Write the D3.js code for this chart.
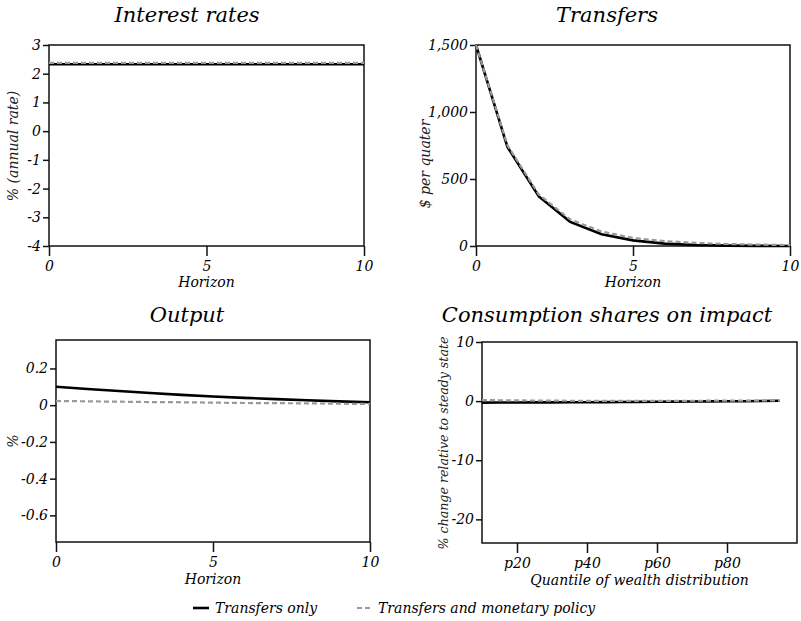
<!DOCTYPE html>
<html lang="en">
<head>
<meta charset="utf-8">
<title>Transfers IRF</title>
<script src="https://cdn.jsdelivr.net/npm/d3@7"></script>
<style>
body { margin: 0; background: #fff; }
svg { display: block; }
text { font-family: "DejaVu Serif", serif; font-style: italic; fill: #000; }
.tick text { font-size: 14px; }
.tick line, .domain { stroke: #111; stroke-width: 1.5px; }
.frame { fill: none; stroke: #111; stroke-width: 1.5px; }
.title { font-size: 21px; }
.xlab { font-size: 14px; }
.ylab { fill: #222; }
</style>
</head>
<body>
<svg id="chart" width="801" height="621"></svg>
<script>

// horizon (quarters)
var horizon = [0, 1, 2, 3, 4, 5, 6, 7, 8, 9, 10];

// interest rates, % annual
var rateOnly = [2.33, 2.33, 2.33, 2.33, 2.33, 2.33, 2.33, 2.33, 2.33, 2.33, 2.33];
var rateMon  = [2.38, 2.38, 2.38, 2.38, 2.38, 2.38, 2.38, 2.38, 2.38, 2.38, 2.38];

// transfers, $ per quarter
var transfersOnly = [1500, 740, 370, 180, 88, 42, 18, 7, 3, 1, 0];
var transfersMon  = [1500, 752, 385, 198, 108, 60, 37, 23, 15, 10, 7];

// output, %
var outputOnly = [0.100, 0.088, 0.077, 0.066, 0.056, 0.047, 0.040, 0.033, 0.027, 0.021, 0.016];
var outputMon  = [0.023, 0.021, 0.019, 0.017, 0.016, 0.014, 0.012, 0.011, 0.010, 0.008, 0.007];

// consumption shares on impact, by wealth quantile
var quantiles = [10, 15, 20, 25, 30, 35, 40, 45, 50, 55, 60, 65, 70, 75, 80, 85, 90, 95];
var consOnly = [-0.25, -0.24, -0.23, -0.22, -0.21, -0.2, -0.19, -0.17, -0.15, -0.13, -0.11, -0.09, -0.07, -0.05, -0.03, -0.01, 0.02, 0.05];
var consMon  = [0.18, 0.15, 0.12, 0.1, 0.08, 0.06, 0.05, 0.04, 0.04, 0.04, 0.05, 0.05, 0.06, 0.07, 0.08, 0.09, 0.1, 0.11];

var quantileTicks = [20, 40, 60, 80];
var quantileLabels = ["p20", "p40", "p60", "p80"];

var seriesNames = ["Transfers only", "Transfers and monetary policy"];

var svg = d3.select("#chart");

function panel(opt) {
  var g = svg.append("g");
  var x = d3.scaleLinear().domain(opt.xDomain).range([opt.left, opt.right]);
  var y = d3.scaleLinear().domain(opt.yDomain).range([opt.bottom, opt.top]);

  // frame
  g.append("rect").attr("class", "frame")
    .attr("x", opt.left).attr("y", opt.top)
    .attr("width", opt.right - opt.left).attr("height", opt.bottom - opt.top);

  var xAxis = d3.axisBottom(x).tickValues(opt.xTicks).tickSize(10).tickSizeOuter(0).tickPadding(5);
  if (opt.xFormat) xAxis.tickFormat(opt.xFormat);
  g.append("g").attr("transform", "translate(0," + opt.bottom + ")").call(xAxis)
    .call(function(a) { a.select(".domain").remove(); });

  var yAxis = d3.axisLeft(y).tickValues(opt.yTicks).tickSize(6).tickSizeOuter(0).tickPadding(2)
    .tickFormat(opt.yFormat);
  g.append("g").attr("transform", "translate(" + opt.left + ",0)").call(yAxis)
    .call(function(a) { a.select(".domain").remove(); });

  var line = d3.line().x(function(d) { return x(d[0]); }).y(function(d) { return y(d[1]); });

  g.append("path").datum(d3.zip(opt.xs, opt.a))
    .attr("fill", "none").attr("stroke", "#000").attr("stroke-width", 2.6)
    .attr("d", line);
  g.append("path").datum(d3.zip(opt.xs, opt.b))
    .attr("fill", "none").attr("stroke", "#9a9a9a").attr("stroke-width", 2.2)
    .attr("stroke-dasharray", "5,3")
    .attr("d", line);

  // titles sit at the centre of each figure column, not of the plot box
  g.append("text").attr("class", "title")
    .attr("x", opt.titleX).attr("y", opt.titleY)
    .attr("text-anchor", "middle").text(opt.title);

  g.append("text").attr("class", "xlab")
    .attr("x", (opt.left + opt.right) / 2).attr("y", opt.bottom + opt.xlabDy)
    .attr("text-anchor", "middle").text(opt.xLabel);

  g.append("text").attr("class", "ylab")
    .attr("font-size", opt.ylabSize)
    .attr("transform", "translate(" + opt.ylabX + "," + opt.ylabY + ") rotate(-90)")
    .attr("text-anchor", "middle").text(opt.yLabel);
}

var fmtInt = d3.format("d");
var fmtMinus = function(f) { return function(d) { return f(d).replace("−", "-"); }; };

panel({
  title: "Interest rates", titleX: 187, titleY: 22, left: 49, right: 364, top: 45, bottom: 246,
  xs: horizon, a: rateOnly, b: rateMon,
  xDomain: [0, 10], xTicks: [0, 5, 10],
  yDomain: [-4, 3], yTicks: [-4, -3, -2, -1, 0, 1, 2, 3], yFormat: fmtMinus(fmtInt),
  xLabel: "Horizon", xlabDy: 41, yLabel: "% (annual rate)", ylabSize: 14, ylabX: 18, ylabY: 146
});

panel({
  title: "Transfers", titleX: 607, titleY: 22, left: 476, right: 790, top: 45, bottom: 246,
  xs: horizon, a: transfersOnly, b: transfersMon,
  xDomain: [0, 10], xTicks: [0, 5, 10],
  yDomain: [0, 1500], yTicks: [0, 500, 1000, 1500], yFormat: d3.format(","),
  xLabel: "Horizon", xlabDy: 41, yLabel: "$ per quater", ylabSize: 14, ylabX: 430, ylabY: 164
});

panel({
  title: "Output", titleX: 187, titleY: 322, left: 56, right: 370, top: 340, bottom: 542,
  xs: horizon, a: outputOnly, b: outputMon,
  xDomain: [0, 10], xTicks: [0, 5, 10],
  yDomain: [-0.745, 0.355], yTicks: [-0.6, -0.4, -0.2, 0, 0.2],
  yFormat: fmtMinus(function(d) { return d === 0 ? "0" : d3.format(".1f")(d); }),
  xLabel: "Horizon", xlabDy: 42, yLabel: "%", ylabSize: 14, ylabX: 18, ylabY: 441
});

panel({
  title: "Consumption shares on impact", titleX: 607, titleY: 322, left: 482, right: 797, top: 342, bottom: 543,
  xs: quantiles, a: consOnly, b: consMon,
  xDomain: [10, 100], xTicks: quantileTicks,
  xFormat: function(d, i) { return quantileLabels[i]; },
  yDomain: [-24, 10], yTicks: [-20, -10, 0, 10], yFormat: fmtMinus(fmtInt),
  xLabel: "Quantile of wealth distribution", xlabDy: 42,
  yLabel: "% change relative to steady state", ylabSize: 12.6, ylabX: 448, ylabY: 443
});

// legend
var legend = svg.append("g").attr("transform", "translate(0,608)");
legend.append("line").attr("x1", 193).attr("x2", 209).attr("y1", 0).attr("y2", 0)
  .attr("stroke", "#000").attr("stroke-width", 2.6);
legend.append("text").attr("class", "xlab").attr("x", 215).attr("y", 5).text(seriesNames[0]);
legend.append("line").attr("x1", 357).attr("x2", 373).attr("y1", 0).attr("y2", 0)
  .attr("stroke", "#9a9a9a").attr("stroke-width", 2.2).attr("stroke-dasharray", "5,3");
legend.append("text").attr("class", "xlab").attr("x", 378).attr("y", 5).text(seriesNames[1]);

</script>
</body>
</html>
